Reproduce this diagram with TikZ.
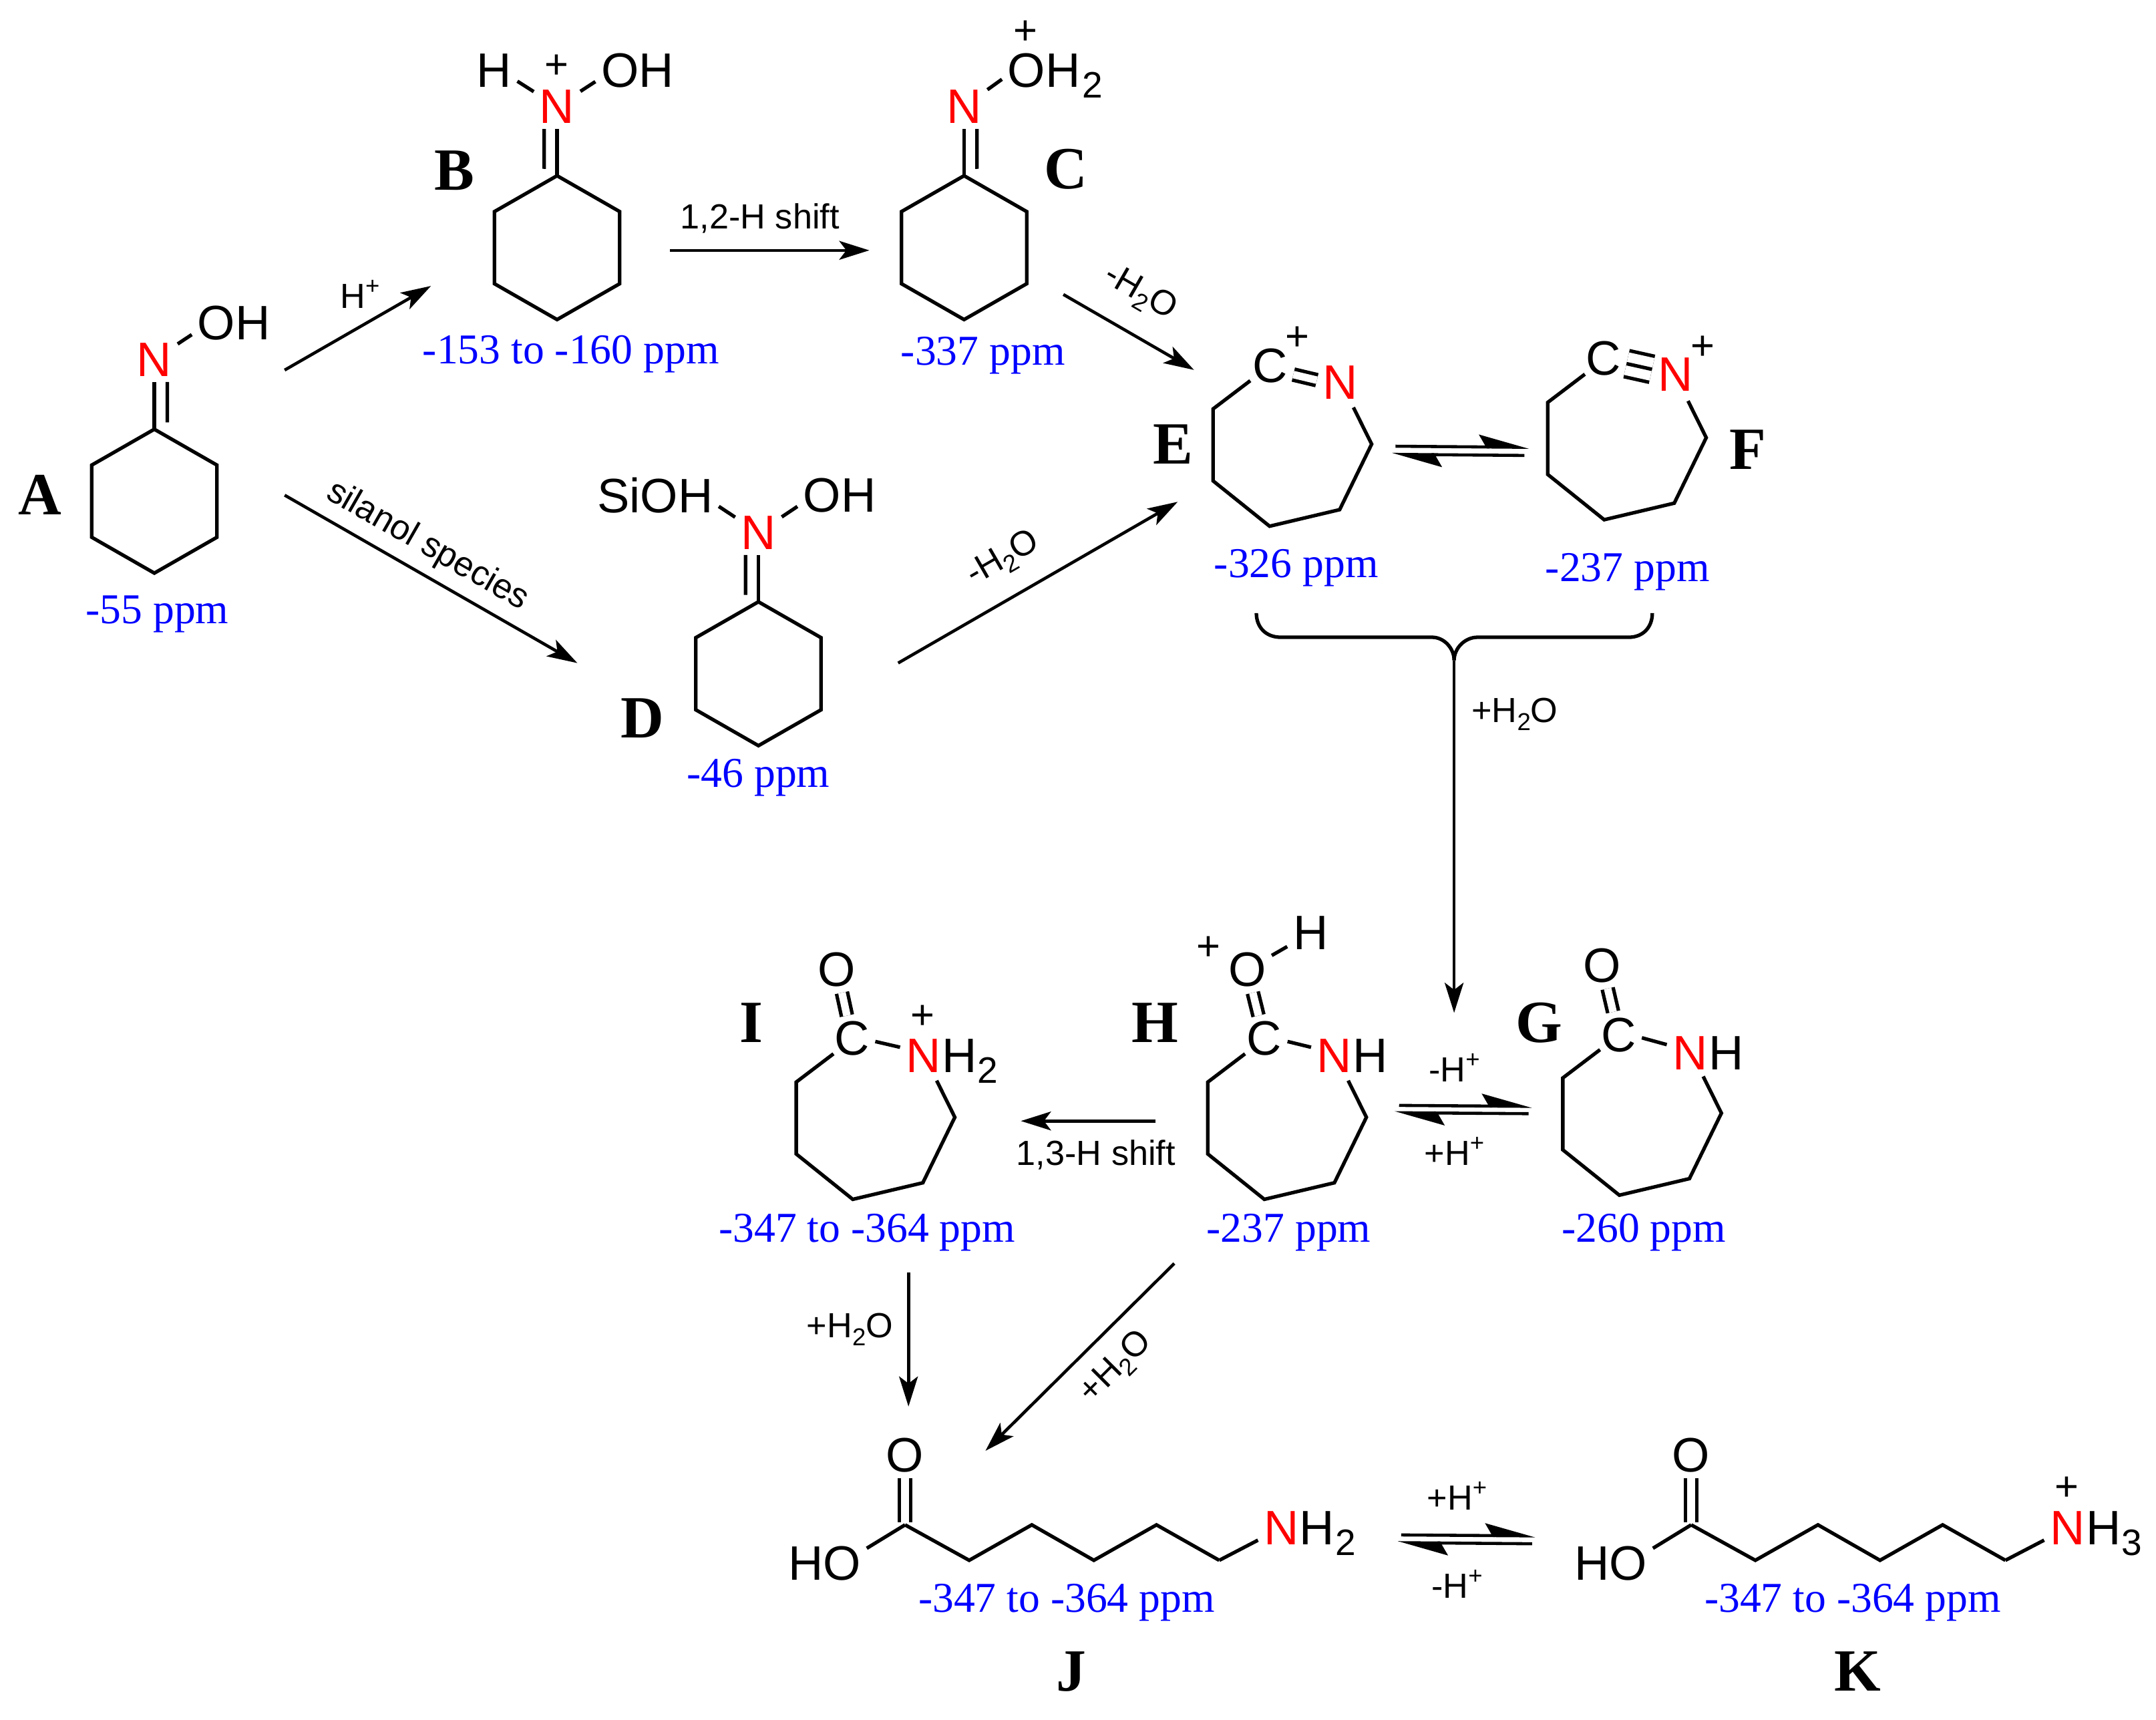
\documentclass[tikz,border=0pt]{standalone}
\usepackage{fontspec}
\setmainfont{Liberation Serif}
\setsansfont{Liberation Sans}
\usetikzlibrary{arrows.meta}

\newcommand{\lowered}[1]{\raisebox{-.22em}{\scalebox{.7}{#1}}}
\newcommand{\lowatom}[1]{\hspace{.02em}\raisebox{-.22em}{\scalebox{.76}{#1}}}
\newcommand{\raised}[1]{\raisebox{.4em}{\scalebox{.7}{#1}}}

\tikzset{
	bond/.style={line width=1.5pt},
	dblbond/.style={line width=1.5pt,double,double distance=3.2pt,shorten >=1pt},
	atomlabel/.style={inner sep=2.3pt,font=\sffamily\fontsize{20.6}{24}\selectfont},
	atomtail/.style={anchor=base west,inner xsep=0pt,inner ysep=2.3pt,xshift=-2.3pt,font=\sffamily\fontsize{20.6}{24}\selectfont},
	nitrogen/.style={atomlabel,text=red},
	charge/.style={inner sep=0pt,yshift=-.9pt,font=\sffamily\fontsize{17.5}{20}\selectfont},
	rxnlabel/.style={inner sep=0pt,font=\sffamily\fontsize{14.85}{17}\selectfont},
	ppmlabel/.style={anchor=base,inner sep=0pt,yshift=-.8pt,text=blue,font=\fontsize{18.1}{21}\selectfont},
	letterlabel/.style={inner sep=0pt,font=\bfseries\fontsize{25.5}{30}\selectfont},
	rxnarrow/.style={line width=1.3pt,-{Stealth[length=12.8pt,width=8pt,inset=3pt]}},
	eqarrow/.style={line width=1.3pt,-{Stealth[length=19pt,width=10.4pt,inset=3pt,left]}},
	hexring/.pic={
		\coordinate (-top) at (0,0);
		\draw[bond] (0,0) -- (45.4,26) -- (45.4,78.3) -- (0,104.3) -- (-45.4,78.3) -- (-45.4,26) -- cycle;
	},
	azering/.pic={
		\draw[bond] (0,0) -- (-27,20.5) -- (-27,72.6) -- (14,105.5) -- (64.8,93.5) -- (88,46) -- (74.8,19.4);
	},
	acidchain/.pic={
		\coordinate (-top) at (0,0);
		\coordinate (-last) at (227.8,25.7);
		\draw[bond] (-top) -- (46.5,25.7) -- (91.9,0) -- (136.9,25.7) -- (182.3,0) -- (-last);
	}
}

\begin{document}
\begin{tikzpicture}[x=0.02065cm,y=-0.02065cm]
	\path[use as bounding box] (0,0) rectangle (1563.2,1246.5);

	\foreach \nm/\px/\py in {A/29/359,B/329.3/123.6,C/772.6/122.8,D/465.9/520.5,E/850.7/322.1,F/1267.2/326,G/1115.7/741.6,H/837.5/741.6,I/544.6/741.6}
		\node[letterlabel] (lbl\nm) at (\px,\py) {\nm};
	\foreach \nm/\px in {J/776.7,K/1347}
		\node[letterlabel,anchor=base] (lbl\nm) at (\px,1226) {\nm};

	\foreach \nm/\px/\py/\val in {A/114/450.6/-55 ppm,B/413.9/262.5/-153 to -160 ppm,C/712.7/263.3/-337 ppm,D/549.9/569.5/-46 ppm,E/939.8/417.5/-326 ppm,F/1180/420.3/-237 ppm,G/1191.8/899/-260 ppm,H/934.4/899/-237 ppm,I/628.6/899/-347 to -364 ppm,J/773.3/1167.6/-347 to -364 ppm,K/1343.3/1167.6/-347 to -364 ppm}
		\node[ppmlabel] (ppm\nm) at (\px,\py) {\val};

	\pic (ringA) at (111.9,311.2) {hexring};
	\node[nitrogen] (nA) at (111.9,260.6) {N};
	\node[atomlabel] (oA) at (169.6,234.4) {OH};
	\draw[bond] (nA) -- (ringA-top);
	\draw[bond] ([xshift=5.5pt]nA.south) -- ([shift={(9.4,-5)}]ringA-top);
	\draw[bond] (nA) -- (oA.195);

	\pic (ringB) at (403.9,127.4) {hexring};
	\node[nitrogen] (nB) at (403.9,77.2) {N};
	\node[atomlabel] (hB) at (358.2,51) {H};
	\node[atomlabel] (oB) at (462.2,51) {OH};
	\node[charge] (plusB) at (403.4,47) {+};
	\draw[bond] (nB) -- (ringB-top);
	\draw[bond] ([xshift=-5.5pt]nB.south) -- ([shift={(-9.4,-5)}]ringB-top);
	\draw[bond] (hB.-25) -- (nB);
	\draw[bond] (nB) -- (oB.195);

	\pic (ringC) at (699,127.4) {hexring};
	\node[nitrogen] (nC) at (699,77.2) {N};
	\node[atomlabel] (oC) at (757,51) {OH};
	\node[atomtail] (tailC) at (oC.base east) {\lowatom{2}};
	\node[charge] (plusC) at (743.7,22) {+};
	\draw[bond] (nC) -- (ringC-top);
	\draw[bond] ([xshift=5.5pt]nC.south) -- ([shift={(9.4,-5)}]ringC-top);
	\draw[bond] (nC) -- (oC.192);

	\pic (ringD) at (549.9,436.3) {hexring};
	\node[nitrogen] (nD) at (549.9,386.1) {N};
	\node[atomlabel] (sD) at (475,359) {SiOH};
	\node[atomlabel] (oD) at (608.7,359) {OH};
	\draw[bond] (nD) -- (ringD-top);
	\draw[bond] ([xshift=-5.5pt]nD.south) -- ([shift={(-9.4,-5)}]ringD-top);
	\draw[bond] (sD.-10) -- (nD);
	\draw[bond] (nD) -- (oD.195);

	\pic at (906.5,276) {azering};
	\node[atomlabel] (cE) at (920.8,265.4) {C};
	\node[nitrogen] (nE) at (971.7,277.1) {N};
	\node[charge] (plusE) at (940.8,243.7) {+};
	\draw[dblbond,shorten >=0pt] (cE.-20) -- (nE.175);

	\pic at (1149.1,271.3) {azering};
	\node[atomlabel] (cF) at (1162.4,259.9) {C};
	\node[nitrogen] (nF) at (1214.7,271.5) {N};
	\node[charge] (plusF) at (1234.4,250.7) {+};
	\draw[bond,double,double distance=9.8pt] (cF) -- (nF);
	\draw[bond] (cF) -- (nF);

	\pic at (604.3,764) {azering};
	\node[atomlabel] (cI) at (617.7,753) {C};
	\node[atomlabel] (oI) at (606.8,703) {O};
	\node[nitrogen] (nI) at (669.5,765.4) {N};
	\node[atomtail] (tailI) at (nI.base east) {H\lowatom{2}};
	\node[charge] (plusI) at (669,735.9) {+};
	\draw[dblbond,shorten >=0pt] (oI) -- (cI);
	\draw[bond] (cI.-7) -- (nI.160);

	\pic at (902.7,764) {azering};
	\node[atomlabel] (cH) at (916.6,753) {C};
	\node[atomlabel] (oH) at (904.2,703) {O};
	\node[atomlabel] (hH) at (950.2,676.5) {H};
	\node[nitrogen] (nH) at (967.5,765.4) {N};
	\node[atomtail] (tailH) at (nH.base east) {H};
	\node[charge] (plusH) at (876.1,686) {+};
	\draw[dblbond,shorten >=0pt] (oH) -- (cH);
	\draw[bond] (oH) -- (hH);
	\draw[bond] (cH.-7) -- (nH.160);

	\pic at (1160.1,761) {azering};
	\node[atomlabel] (cG) at (1173.5,750.3) {C};
	\node[atomlabel] (oG) at (1161.7,700) {O};
	\node[nitrogen] (nG) at (1225.4,763.5) {N};
	\node[atomtail] (tailG) at (nG.base east) {H};
	\draw[dblbond,shorten >=0pt] (oG) -- (cG);
	\draw[bond] (cG.-7) -- (nG.160);

	\pic (chainJ) at (656.2,1105.5) {acidchain};
	\node[atomlabel] (oJ) at (656.2,1054.9) {O};
	\node[atomlabel] (hoJ) at (597.9,1133.6) {HO};
	\node[nitrogen] (nJ) at (929,1107.8) {N};
	\node[atomtail] (tailJ) at (nJ.base east) {H\lowatom{2}};
	\draw[dblbond] (oJ) -- (chainJ-top);
	\draw[bond] (hoJ.20) -- (chainJ-top);
	\draw[bond] (chainJ-last) -- (nJ);

	\pic (chainK) at (1226.2,1105.5) {acidchain};
	\node[atomlabel] (oK) at (1226.2,1054.9) {O};
	\node[atomlabel] (hoK) at (1167.9,1133.6) {HO};
	\node[nitrogen] (nK) at (1499,1107.8) {N};
	\node[atomtail] (tailK) at (nK.base east) {H\lowatom{3}};
	\node[charge] (plusK) at (1498.6,1077.8) {+};
	\draw[dblbond] (oK) -- (chainK-top);
	\draw[bond] (hoK.20) -- (chainK-top);
	\draw[bond] (chainK-last) -- (nK);

	\foreach \nm/\px/\py in {ab1/206.4/268.3,ab2/312.5/207.3,bc1/485.8/181.5,bc2/630.3/181.5,ad1/206.4/359,ad2/418.6/480.7,de1/651.2/480.7,de2/853.9/363.8,ce1/771/213.5,ce2/865.7/268.2,ef1/1011.8/323.5,ef2/1108.7/324.3,fe1/1105.3/330.2,fe2/1009.1/329.4,hg1/1014.4/801.4,hg2/1110.8/802.1,gh1/1108.3/807.4,gh2/1011/806.7,hi1/838/812.7,hi2/740.2/812.7,ij1/658.7/922.4,ij2/658.7/1019.7,hj1/851.4/916,hj2/714.5/1051.8,jk1/1015.9/1112.8,jk2/1113.2/1113.5,kj1/1110.8/1119.2,kj2/1013.4/1118.4,brL/910.9/444.5,brR/1198/444.5,brJoin/1054.3/478.7,brEnd/1054.3/734.3}
		\coordinate (\nm) at (\px,\py);

	\draw[rxnarrow] (ab1) -- (ab2);
	\draw[rxnarrow] (bc1) -- (bc2);
	\draw[rxnarrow] (ad1) -- (ad2);
	\draw[rxnarrow] (de1) -- (de2);
	\draw[rxnarrow] (ce1) -- (ce2);
	\draw[rxnarrow] (hi1) -- (hi2);
	\draw[rxnarrow] (ij1) -- (ij2);
	\draw[rxnarrow] (hj1) -- (hj2);
	\draw[rxnarrow] (brJoin) -- (brEnd);
	\draw[eqarrow] (ef1) -- (ef2);
	\draw[eqarrow] (fe1) -- (fe2);
	\draw[eqarrow] (hg1) -- (hg2);
	\draw[eqarrow] (gh1) -- (gh2);
	\draw[eqarrow] (jk1) -- (jk2);
	\draw[eqarrow] (kj1) -- (kj2);
	\draw[bond] (brL) .. controls (911,455) and (918,462) .. (928.6,462) -- (1038.3,462) .. controls (1047,462) and (1054.3,470) .. (brJoin);
	\draw[bond] (brR) .. controls (1198,455) and (1191,462) .. (1181,462) -- (1071.3,462) .. controls (1062,462) and (1054.3,470) .. (brJoin);

	\node[rxnlabel] (txtAB) at (261,213.5) {H\raised{+}};
	\node[rxnlabel] (txtBC) at (551,158.3) {1,2-H shift};
	\node[rxnlabel,rotate=-29.8] (txtAD) at (310,396) {silanol species};
	\node[rxnlabel,rotate=30] (txtDE) at (727.4,405.4) {-H\lowered{2}O};
	\node[rxnlabel,rotate=-30] (txtCE) at (826.6,212.6) {-H\lowered{2}O};
	\node[rxnlabel] (txtEG) at (1098.3,517.7) {+H\lowered{2}O};
	\node[rxnlabel] (txtHGa) at (1054.5,774) {-H\raised{+}};
	\node[rxnlabel] (txtHGb) at (1054.5,834.4) {+H\raised{+}};
	\node[rxnlabel] (txtHI) at (794.6,837.3) {1,3-H shift};
	\node[rxnlabel] (txtIJ) at (616.2,963.7) {+H\lowered{2}O};
	\node[rxnlabel,rotate=45] (txtHJ) at (809.4,991.8) {+H\lowered{2}O};
	\node[rxnlabel] (txtJKa) at (1056.4,1084.4) {+H\raised{+}};
	\node[rxnlabel] (txtJKb) at (1056.4,1148.6) {-H\raised{+}};
\end{tikzpicture}
\end{document}
